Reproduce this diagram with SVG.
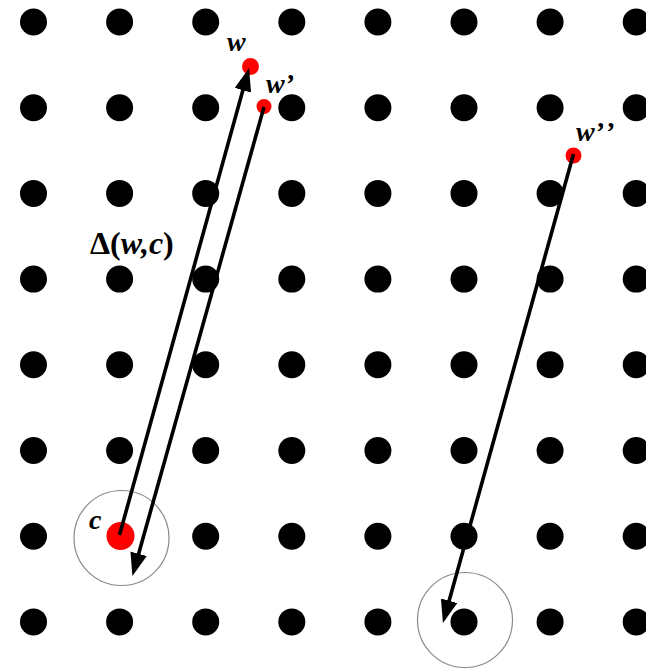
<svg xmlns="http://www.w3.org/2000/svg" width="646" height="669" viewBox="0 0 646 669">
<style>
.dot{fill:#000}
.red{fill:#ff0000}
.ring{fill:none;stroke:#8a8a8a;stroke-width:1.2}
.arr{stroke:#000;stroke-width:3.6;fill:none;marker-end:url(#ah)}
.lbl{font-family:"Liberation Serif","Times New Roman",serif;font-style:italic;font-weight:bold;fill:#000}
.up{font-style:normal}
</style>
<defs>
<marker id="ah" viewBox="0 0 23 17" refX="9" refY="8.5" markerWidth="23" markerHeight="17" markerUnits="userSpaceOnUse" orient="auto">
<path d="M0,0 L23,8.5 L0,17 z" fill="#000"/>
</marker>
</defs>
<rect width="646" height="669" fill="#fff"/>
<g id="grid">
<g id="row1"><circle class="dot" cx="33.5" cy="22" r="13.5"/><circle class="dot" cx="119.6" cy="22" r="13.5"/><circle class="dot" cx="205.7" cy="22" r="13.5"/><circle class="dot" cx="291.8" cy="22" r="13.5"/><circle class="dot" cx="377.9" cy="22" r="13.5"/><circle class="dot" cx="464" cy="22" r="13.5"/><circle class="dot" cx="550.1" cy="22" r="13.5"/><circle class="dot" cx="636.2" cy="22" r="13.5"/></g>
<g id="row2"><circle class="dot" cx="33.5" cy="107.7" r="13.5"/><circle class="dot" cx="119.6" cy="107.7" r="13.5"/><circle class="dot" cx="205.7" cy="107.7" r="13.5"/><circle class="dot" cx="291.8" cy="107.7" r="13.5"/><circle class="dot" cx="377.9" cy="107.7" r="13.5"/><circle class="dot" cx="464" cy="107.7" r="13.5"/><circle class="dot" cx="550.1" cy="107.7" r="13.5"/><circle class="dot" cx="636.2" cy="107.7" r="13.5"/></g>
<g id="row3"><circle class="dot" cx="33.5" cy="193.4" r="13.5"/><circle class="dot" cx="119.6" cy="193.4" r="13.5"/><circle class="dot" cx="205.7" cy="193.4" r="13.5"/><circle class="dot" cx="291.8" cy="193.4" r="13.5"/><circle class="dot" cx="377.9" cy="193.4" r="13.5"/><circle class="dot" cx="464" cy="193.4" r="13.5"/><circle class="dot" cx="550.1" cy="193.4" r="13.5"/><circle class="dot" cx="636.2" cy="193.4" r="13.5"/></g>
<g id="row4"><circle class="dot" cx="33.5" cy="279.1" r="13.5"/><circle class="dot" cx="119.6" cy="279.1" r="13.5"/><circle class="dot" cx="205.7" cy="279.1" r="13.5"/><circle class="dot" cx="291.8" cy="279.1" r="13.5"/><circle class="dot" cx="377.9" cy="279.1" r="13.5"/><circle class="dot" cx="464" cy="279.1" r="13.5"/><circle class="dot" cx="550.1" cy="279.1" r="13.5"/><circle class="dot" cx="636.2" cy="279.1" r="13.5"/></g>
<g id="row5"><circle class="dot" cx="33.5" cy="364.8" r="13.5"/><circle class="dot" cx="119.6" cy="364.8" r="13.5"/><circle class="dot" cx="205.7" cy="364.8" r="13.5"/><circle class="dot" cx="291.8" cy="364.8" r="13.5"/><circle class="dot" cx="377.9" cy="364.8" r="13.5"/><circle class="dot" cx="464" cy="364.8" r="13.5"/><circle class="dot" cx="550.1" cy="364.8" r="13.5"/><circle class="dot" cx="636.2" cy="364.8" r="13.5"/></g>
<g id="row6"><circle class="dot" cx="33.5" cy="450.5" r="13.5"/><circle class="dot" cx="119.6" cy="450.5" r="13.5"/><circle class="dot" cx="205.7" cy="450.5" r="13.5"/><circle class="dot" cx="291.8" cy="450.5" r="13.5"/><circle class="dot" cx="377.9" cy="450.5" r="13.5"/><circle class="dot" cx="464" cy="450.5" r="13.5"/><circle class="dot" cx="550.1" cy="450.5" r="13.5"/><circle class="dot" cx="636.2" cy="450.5" r="13.5"/></g>
<g id="row7"><circle class="dot" cx="33.5" cy="536.2" r="13.5"/><circle class="dot" cx="205.7" cy="536.2" r="13.5"/><circle class="dot" cx="291.8" cy="536.2" r="13.5"/><circle class="dot" cx="377.9" cy="536.2" r="13.5"/><circle class="dot" cx="464" cy="536.2" r="13.5"/><circle class="dot" cx="550.1" cy="536.2" r="13.5"/><circle class="dot" cx="636.2" cy="536.2" r="13.5"/></g>
<g id="row8"><circle class="dot" cx="33.5" cy="621.9" r="13.5"/><circle class="dot" cx="119.6" cy="621.9" r="13.5"/><circle class="dot" cx="205.7" cy="621.9" r="13.5"/><circle class="dot" cx="291.8" cy="621.9" r="13.5"/><circle class="dot" cx="377.9" cy="621.9" r="13.5"/><circle class="dot" cx="464" cy="621.9" r="13.5"/><circle class="dot" cx="550.1" cy="621.9" r="13.5"/><circle class="dot" cx="636.2" cy="621.9" r="13.5"/></g>
</g>
<g id="rings">
<circle class="ring" cx="121.5" cy="538" r="47.5"/>
<circle class="ring" cx="465" cy="620" r="47.5"/>
</g>
<g id="node-c"><circle class="red" cx="120.5" cy="536" r="14"/><text class="lbl" x="89" y="529" font-size="28">c</text></g>
<g id="node-w"><circle class="red" cx="250.5" cy="66.5" r="8.5"/><text class="lbl" x="227" y="51" font-size="28">w</text></g>
<g id="node-w1"><circle class="red" cx="264" cy="106.5" r="7.5"/><text class="lbl" x="266" y="93" font-size="28">w’</text></g>
<g id="node-w2"><circle class="red" cx="573.5" cy="155.5" r="8"/><text class="lbl" x="576" y="141" font-size="28">w’<tspan dx="3">’</tspan></text></g>
<g id="connectors">
<line class="arr" x1="119.5" y1="535" x2="245.3" y2="81.6"/>
<line class="arr" x1="264" y1="107" x2="136.2" y2="562.4"/>
<line class="arr" x1="573.5" y1="154" x2="446.7" y2="609.4"/>
</g>
<g id="label-delta"><text class="lbl" x="90" y="254" font-size="32"><tspan class="up">Δ(</tspan>w,c<tspan class="up">)</tspan></text></g>
</svg>
